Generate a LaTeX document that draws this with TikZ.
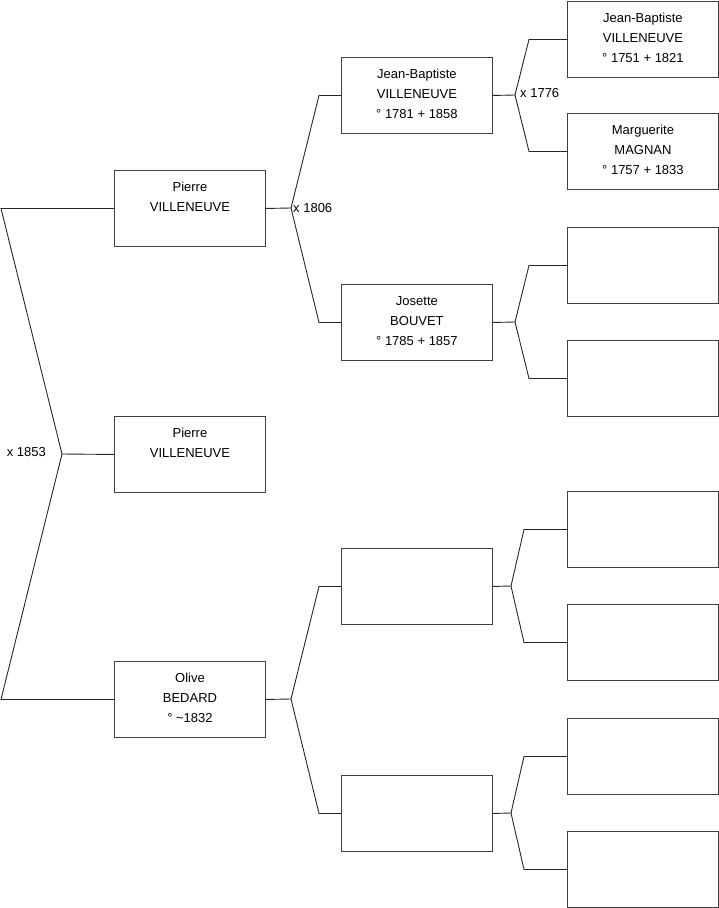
\documentclass[tikz,border=0pt]{standalone}
\usepackage{fontspec}
\setmainfont{Liberation Sans}
\newcommand\persontext[1]{\parbox[c][76pt][t]{151pt}{\centering\fontsize{13}{20}\selectfont\rule{0pt}{21pt}#1}}
\begin{document}
\begin{tikzpicture}[x=1pt,y=-1pt,
  person/.style={draw=black!75, line width=0.9pt, rectangle, anchor=north west,
    minimum width=151pt, minimum height=76pt, inner sep=0pt},
  link/.style={draw=black!85, line width=0.9pt},
  marr/.style={inner sep=0pt, font=\fontsize{13}{16}\selectfont}]
\useasboundingbox (0,0) rectangle (719,908);
% generation 0
\node[person] (f0) at (114,170) {\persontext{Pierre\\VILLENEUVE}};
\node[person] (s)  at (114,416) {\persontext{Pierre\\VILLENEUVE}};
\node[person] (m0) at (114,661) {\persontext{Olive\\BEDARD\\° \textasciitilde1832}};
% generation 1
\node[person] (a) at (341,57)  {\persontext{Jean-Baptiste\\VILLENEUVE\\° 1781 + 1858}};
\node[person] (b) at (341,284) {\persontext{Josette\\BOUVET\\° 1785 + 1857}};
\node[person] (c) at (341,548) {\persontext{}};
\node[person] (d) at (341,775) {\persontext{}};
% generation 2
\node[person] (g1) at (567,1)   {\persontext{Jean-Baptiste\\VILLENEUVE\\° 1751 + 1821}};
\node[person] (g2) at (567,113) {\persontext{Marguerite\\MAGNAN\\° 1757 + 1833}};
\node[person] (g3) at (567,227) {\persontext{}};
\node[person] (g4) at (567,340) {\persontext{}};
\node[person] (g5) at (567,491) {\persontext{}};
\node[person] (g6) at (567,604) {\persontext{}};
\node[person] (g7) at (567,718) {\persontext{}};
\node[person] (g8) at (567,831) {\persontext{}};
% fork points
\coordinate (L0) at (1,0);
\coordinate (k0) at (62,454);
\coordinate (e1) at (319,0);
\coordinate (k1) at (291,208);
\coordinate (k2) at (291,699);
\coordinate (e3) at (529,0);
\coordinate (e5) at (524,0);
\coordinate (k3) at (515,95);
\coordinate (k4) at (515,322);
\coordinate (k5) at (511,586);
\coordinate (k6) at (511,813);
% generation 0 links
\draw[link] (f0.west) -- (L0 |- f0.west) -- (k0) -- (s.west);
\draw[link] (k0) -- (L0 |- m0.west) -- (m0.west);
% generation 1 links
\draw[link] (f0.east) -- (k1) -- (e1 |- a.west) -- (a.west);
\draw[link] (k1) -- (e1 |- b.west) -- (b.west);
\draw[link] (m0.east) -- (k2) -- (e1 |- c.west) -- (c.west);
\draw[link] (k2) -- (e1 |- d.west) -- (d.west);
% generation 2 links
\draw[link] (a.east) -- (k3) -- (e3 |- g1.west) -- (g1.west);
\draw[link] (k3) -- (e3 |- g2.west) -- (g2.west);
\draw[link] (b.east) -- (k4) -- (e3 |- g3.west) -- (g3.west);
\draw[link] (k4) -- (e3 |- g4.west) -- (g4.west);
\draw[link] (c.east) -- (k5) -- (e5 |- g5.west) -- (g5.west);
\draw[link] (k5) -- (e5 |- g6.west) -- (g6.west);
\draw[link] (d.east) -- (k6) -- (e5 |- g7.west) -- (g7.west);
\draw[link] (k6) -- (e5 |- g8.west) -- (g8.west);
% marriage labels
\node[marr, anchor=base east] (x1853) at (46,456) {x 1853};
\node[marr, anchor=base west] (x1806) at (293,212) {x 1806};
\node[marr, anchor=base west] (x1776) at (520,97) {x 1776};
\end{tikzpicture}
\end{document}
